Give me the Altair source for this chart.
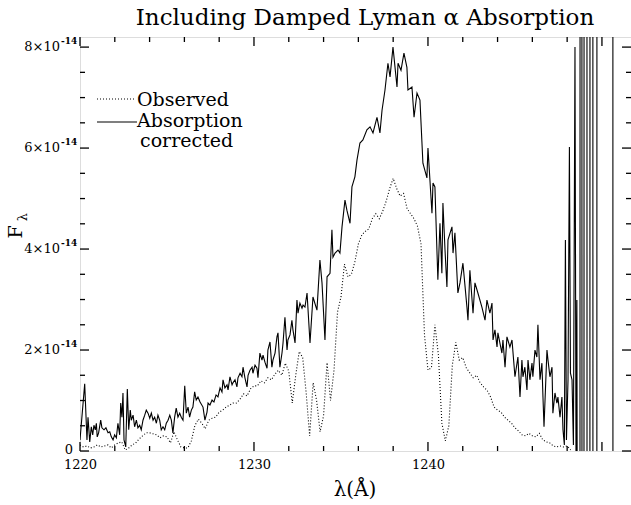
import altair as alt
import pandas as pd

# ---------------- data ----------------
# absorption-corrected spectrum (wavelength in A, flux in 1e-14 units)
corrected_lam = [
    1220.00, 1220.27, 1220.40, 1220.46, 1220.56, 1220.65, 1220.73, 1220.80, 1220.88, 1220.94,
    1220.99, 1221.07, 1221.19, 1221.26, 1221.38, 1221.49, 1221.61, 1221.71, 1221.80, 1221.90,
    1221.99, 1222.09, 1222.18, 1222.28, 1222.34, 1222.41, 1222.47, 1222.53, 1222.63, 1222.72,
    1222.80, 1222.89, 1222.95, 1223.05, 1223.14, 1223.24, 1223.33, 1223.43, 1223.52, 1223.62,
    1223.72, 1223.81, 1223.91, 1224.01, 1224.10, 1224.20, 1224.29, 1224.39, 1224.48, 1224.58,
    1224.67, 1224.77, 1224.87, 1224.96, 1225.06, 1225.16, 1225.25, 1225.34, 1225.44, 1225.53,
    1225.63, 1225.73, 1225.82, 1225.92, 1226.02, 1226.11, 1226.21, 1226.30, 1226.40, 1226.49,
    1226.59, 1226.68, 1226.78, 1226.90, 1227.07, 1227.18, 1227.30, 1227.36, 1227.47, 1227.59,
    1227.70, 1227.82, 1227.93, 1228.05, 1228.16, 1228.22, 1228.33, 1228.45, 1228.51, 1228.62,
    1228.74, 1228.79, 1228.91, 1229.02, 1229.08, 1229.20, 1229.31, 1229.37, 1229.48, 1229.60,
    1229.66, 1229.77, 1229.89, 1229.94, 1230.06, 1230.17, 1230.23, 1230.34, 1230.46, 1230.52,
    1230.63, 1230.75, 1230.80, 1230.92, 1231.03, 1231.09, 1231.21, 1231.32, 1231.38, 1231.49,
    1231.61, 1231.67, 1231.78, 1231.90, 1231.95, 1232.07, 1232.18, 1232.24, 1232.36, 1232.47,
    1232.53, 1232.64, 1232.76, 1232.82, 1232.93, 1233.05, 1233.22, 1233.39, 1233.62, 1233.79,
    1233.91, 1234.08, 1234.20, 1234.37, 1234.48, 1234.54, 1234.66, 1234.83, 1234.94, 1235.06,
    1235.23, 1235.34, 1235.52, 1235.63, 1235.80, 1235.92, 1236.09, 1236.26, 1236.49, 1236.67,
    1236.84, 1237.07, 1237.24, 1237.36, 1237.53, 1237.70, 1237.82, 1237.99, 1238.22, 1238.28,
    1238.45, 1238.62, 1238.79, 1238.85, 1239.08, 1239.20, 1239.37, 1239.54, 1239.71, 1239.94,
    1240.00, 1240.23, 1240.29, 1240.40, 1240.57, 1240.69, 1240.80, 1240.86, 1240.98, 1241.09,
    1241.15, 1241.38, 1241.44, 1241.55, 1241.72, 1241.84, 1242.01, 1242.24, 1242.30, 1242.41,
    1242.59, 1242.70, 1242.87, 1243.10, 1243.28, 1243.39, 1243.56, 1243.68, 1243.74, 1243.85,
    1243.97, 1244.02, 1244.25, 1244.31, 1244.43, 1244.54, 1244.71, 1244.83, 1245.00, 1245.17,
    1245.29, 1245.40, 1245.46, 1245.57, 1245.69, 1245.75, 1245.86, 1245.98, 1246.03, 1246.15,
    1246.26, 1246.32, 1246.44, 1246.55, 1246.61, 1246.67, 1246.84, 1246.90, 1247.01, 1247.13,
    1247.18, 1247.30, 1247.41, 1247.47, 1247.59, 1247.70, 1247.76,
    # red end, where the correction blows up
    1247.84, 1247.90, 1247.96, 1248.05, 1248.13, 1248.19, 1248.28, 1248.36, 1248.45, 1248.51,
    1248.56, 1248.62, 1248.735, 1248.745, 1248.845, 1248.855, 1248.965, 1248.975, 1249.135,
    1249.145, 1249.305, 1249.315, 1249.475, 1249.485, 1249.705, 1249.715, 1250.625, 1250.635,
    1251.70,
]
corrected_flux = [
    0.22, 1.33, 0.22, 0.67, 0.18, 0.48, 0.32, 0.51, 0.42, 0.55,
    0.28, 0.36, 0.61, 0.46, 0.42, 0.46, 0.36, 0.38, 0.28, 0.22,
    0.32, 0.26, 0.55, 0.32, 0.95, 0.67, 1.15, 0.22, 0.08, 1.23,
    0.42, 0.81, 0.61, 0.71, 0.48, 0.61, 0.46, 0.51, 0.42, 0.61,
    0.71, 0.81, 0.75, 0.65, 0.75, 0.61, 0.67, 0.55, 0.71, 0.61,
    0.42, 0.48, 0.42, 0.55, 0.61, 0.71, 0.61, 0.36, 0.67, 0.85,
    0.67, 0.75, 0.67, 0.61, 1.29, 0.75, 0.87, 0.67, 0.81, 0.87,
    1.17, 1.01, 1.07, 0.97, 0.87, 0.61, 0.77, 0.95, 0.91, 1.01,
    0.97, 1.11, 1.07, 1.25, 1.17, 1.41, 1.25, 1.31, 1.21, 1.47,
    1.31, 1.35, 1.41, 1.27, 1.45, 1.54, 1.47, 1.66, 1.45, 1.27,
    1.50, 1.60, 1.66, 1.54, 1.70, 1.64, 1.45, 1.94, 1.80, 1.90,
    1.76, 1.64, 2.00, 2.16, 1.66, 1.80, 1.94, 2.26, 2.34, 1.66,
    1.94, 2.14, 2.65, 2.00, 2.20, 2.30, 2.59, 2.40, 2.14, 2.99,
    2.73, 2.93, 2.83, 2.89, 2.85, 3.13, 2.14, 3.05, 2.79, 3.78,
    3.33, 2.20, 3.45, 3.52, 4.38, 3.84, 3.92, 3.98, 3.92, 4.44,
    4.97, 4.77, 4.51, 5.23, 5.43, 5.76, 6.10, 6.16, 6.36, 6.42,
    6.30, 6.61, 6.30, 6.75, 7.15, 7.68, 7.41, 8.00, 7.21, 7.68,
    7.54, 7.88, 7.60, 7.15, 7.21, 6.61, 7.09, 6.95, 5.70, 5.41,
    6.00, 4.71, 5.31, 5.23, 3.39, 4.51, 3.52, 4.91, 3.98, 3.25,
    4.18, 4.44, 3.92, 4.32, 3.13, 3.33, 3.72, 2.85, 2.59, 3.58,
    2.73, 3.33, 3.13, 2.85, 2.59, 2.99, 2.73, 2.93, 2.20, 2.40,
    2.06, 2.34, 1.94, 2.20, 1.66, 2.26, 2.06, 2.20, 1.47, 1.86,
    1.07, 1.80, 1.47, 1.66, 1.21, 1.80, 1.41, 1.74, 1.47, 2.00,
    1.86, 2.50, 1.41, 1.74, 1.07, 0.48, 2.00, 1.80, 1.47, 1.66,
    0.75, 1.15, 0.95, 1.07, 0.67, 1.07, 0.42,
    0.12, 4.18, 0.22, 1.41, 6.02, 1.54, 1.41, 0.12, 8.00, -0.20,
    2.99, -10, -10, 20, 20, -10, -10, 20, 20,
    -10, -10, 20, 20, -10, -10, 20, 20, -10,
    -10,
]

# observed spectrum, sampled every 0.2 A from 1220 A
obs_start = 1220.0
obs_step = 0.2
observed = [
    0.12, 0.08, 0.10, 0.06, 0.08, 0.12, 0.08, 0.10, 0.12, 0.06,
    0.12, 0.16, 0.18, 0.02, 0.06, 0.12, 0.16, 0.24, 0.30, 0.36,
    0.36, 0.34, 0.32, 0.26, 0.30, 0.28, 0.16, 0.38, 0.22, 0.08,
    0.06, 0.06, 0.20, 0.50, 0.63, 0.55, 0.44, 0.61, 0.65, 0.67,
    0.77, 0.81, 0.87, 0.91, 0.95, 0.95, 1.03, 1.13, 1.09, 1.23,
    1.29, 1.29, 1.39, 1.35, 1.45, 1.41, 1.52, 1.60, 1.50, 1.74,
    1.58, 0.95, 1.50, 1.97, 1.85, 1.15, 0.30, 1.35, 1.00, 0.38,
    0.70, 1.75, 1.00, 1.60, 2.75, 3.05, 3.70, 3.45, 3.50, 3.75,
    4.10, 4.28, 4.35, 4.40, 4.60, 4.70, 4.60, 4.75, 4.95, 5.20,
    5.40, 5.20, 5.05, 5.10, 4.80, 4.70, 4.60, 4.45, 4.10, 2.30,
    1.60, 1.65, 2.50, 1.90, 0.55, 0.20, 0.50, 1.70, 2.15, 1.80,
    1.85, 1.65, 1.55, 1.45, 1.50, 1.35, 1.27, 1.20, 1.07, 0.87,
    0.81, 0.77, 0.67, 0.61, 0.55, 0.46, 0.40, 0.32, 0.30, 0.35,
    0.30, 0.28, 0.35, 0.22, 0.18, 0.16, 0.10, 0.08, 0.10, 0.08,
    0.10, 0.02,
]

x_labels = [1220, 1230, 1240]
x_major = [1220, 1230, 1240, 1250]
x_minor = [1222, 1224, 1226, 1228, 1232, 1234, 1236, 1238, 1242, 1244,
           1246, 1248]
y_labels = [2, 4, 6, 8]
y_major = [0, 2, 4, 6, 8]
y_minor = [0.5, 1, 1.5, 2.5, 3, 3.5, 4.5, 5, 5.5, 6.5, 7, 7.5]
y_exponent = "-14"

title_text = "Including Damped Lyman \u03b1 Absorption"
legend_labels = ["Observed", "Absorption", "corrected"]
x_title = "\u03bb(\u00c5)"
y_title_main = "F"
y_title_sub = "\u03bb"

# ---------------- frames ----------------
obs_lam = [obs_start + obs_step * i for i in range(len(observed))]
df_corr = pd.DataFrame({"lam": corrected_lam, "flux": corrected_flux})
df_obs = pd.DataFrame({"lam": obs_lam, "flux": observed})

W, H = 551, 414
FONT = "DejaVu Serif"

xs = alt.Scale(domain=[1220, 1251.67], nice=False, zero=False)
ys = alt.Scale(domain=[0, 8.2], nice=False, zero=False)
x_axis = alt.Axis(values=x_labels, ticks=False, domain=False, grid=False,
                  labelFont=FONT, labelFontSize=13, labelColor="black",
                  labelPadding=7, labelFlush=False, title=None, format="d")


def X(field):
    return alt.X(field, type="quantitative", scale=xs, axis=x_axis)


def Y(field):
    return alt.Y(field, type="quantitative", scale=ys, axis=None)


corr_line = alt.Chart(df_corr).mark_line(
    color="black", strokeWidth=1.1, clip=True
).encode(x=X("lam"), y=Y("flux"), order="lam:Q")

obs_line = alt.Chart(df_obs).mark_line(
    color="black", strokeWidth=1.1, strokeDash=[1, 2], clip=True
).encode(x=X("lam"), y=Y("flux"), order="lam:Q")

layers = [obs_line, corr_line]

# inward ticks on all four sides
for vals, ln in ((x_major, 9), (x_minor, 5)):
    d = pd.DataFrame({"v": vals})
    layers.append(alt.Chart(d).mark_rule(color="black", strokeWidth=1.3).encode(
        x=X("v"), y=alt.value(H), y2=alt.value(H - ln)))
    layers.append(alt.Chart(d).mark_rule(color="black", strokeWidth=1.3).encode(
        x=X("v"), y=alt.value(0), y2=alt.value(ln)))
for vals, ln in ((y_major, 9), (y_minor, 5)):
    d = pd.DataFrame({"v": vals})
    layers.append(alt.Chart(d).mark_rule(color="black", strokeWidth=1.3).encode(
        y=Y("v"), x=alt.value(0), x2=alt.value(ln)))
    layers.append(alt.Chart(d).mark_rule(color="black", strokeWidth=1.3).encode(
        y=Y("v"), x=alt.value(W), x2=alt.value(W - ln)))

# y tick labels  "8x10^-14"
dl = pd.DataFrame({"v": y_labels})
layers.append(alt.Chart(dl).transform_calculate(
    lab="datum.v + '\u00d710'"
).mark_text(align="right", baseline="middle", font=FONT, fontSize=13,
            color="black").encode(y=Y("v"), x=alt.value(-20), text="lab:N"))
layers.append(alt.Chart(dl).mark_text(
    align="left", baseline="middle", font=FONT, fontSize=9, fontWeight="bold",
    dy=-6, color="black").encode(y=Y("v"), x=alt.value(-19),
                                  text=alt.value(y_exponent)))
layers.append(alt.Chart(pd.DataFrame({"v": [0]})).mark_text(
    align="right", baseline="alphabetic", font=FONT, fontSize=13, dy=3,
    color="black").encode(y=Y("v"), x=alt.value(-7), text="v:N"))

# axis titles and plot title
layers.append(alt.Chart(pd.DataFrame({"t": [x_title]})).mark_text(
    align="center", baseline="alphabetic", font=FONT, fontSize=20,
    color="black").encode(x=alt.value(275), y=alt.value(H + 45), text="t:N"))
layers.append(alt.Chart(pd.DataFrame({"t": [y_title_main]})).mark_text(
    align="center", baseline="middle", font=FONT, fontSize=19, angle=270,
    color="black").encode(x=alt.value(-64), y=alt.value(195), text="t:N"))
layers.append(alt.Chart(pd.DataFrame({"t": [y_title_sub]})).mark_text(
    align="center", baseline="middle", font=FONT, fontSize=13, angle=270,
    color="black").encode(x=alt.value(-57), y=alt.value(180), text="t:N"))
layers.append(alt.Chart(pd.DataFrame({"t": [title_text]})).mark_text(
    align="center", baseline="alphabetic", font=FONT, fontSize=23,
    color="black").encode(x=alt.value(285), y=alt.value(-12), text="t:N"))

# legend (drawn inside the plot, top-left)
layers.append(alt.Chart(pd.DataFrame({"t": [legend_labels[0]]})).mark_rule(
    color="black", strokeWidth=1.1, strokeDash=[1, 2]).encode(
    x=alt.value(17), x2=alt.value(56), y=alt.value(62)))
layers.append(alt.Chart(pd.DataFrame({"t": [legend_labels[1]]})).mark_rule(
    color="black", strokeWidth=1.2).encode(
    x=alt.value(17), x2=alt.value(57), y=alt.value(85)))
for lab, px, py in zip(legend_labels, (57, 57, 60), (69, 90, 110)):
    layers.append(alt.Chart(pd.DataFrame({"t": [lab]})).mark_text(
        align="left", baseline="alphabetic", font=FONT, fontSize=19,
        color="black").encode(x=alt.value(px), y=alt.value(py), text="t:N"))

chart = alt.layer(*layers).properties(
    width=W, height=H,
    autosize=alt.AutoSizeParams(type="none"),
    padding={"left": 80, "top": 37, "right": 0, "bottom": 54},
).configure_view(stroke="black", strokeWidth=1.6).configure(background="white")

chart.save("out.html", embed_options={"renderer": "svg", "actions": False})
